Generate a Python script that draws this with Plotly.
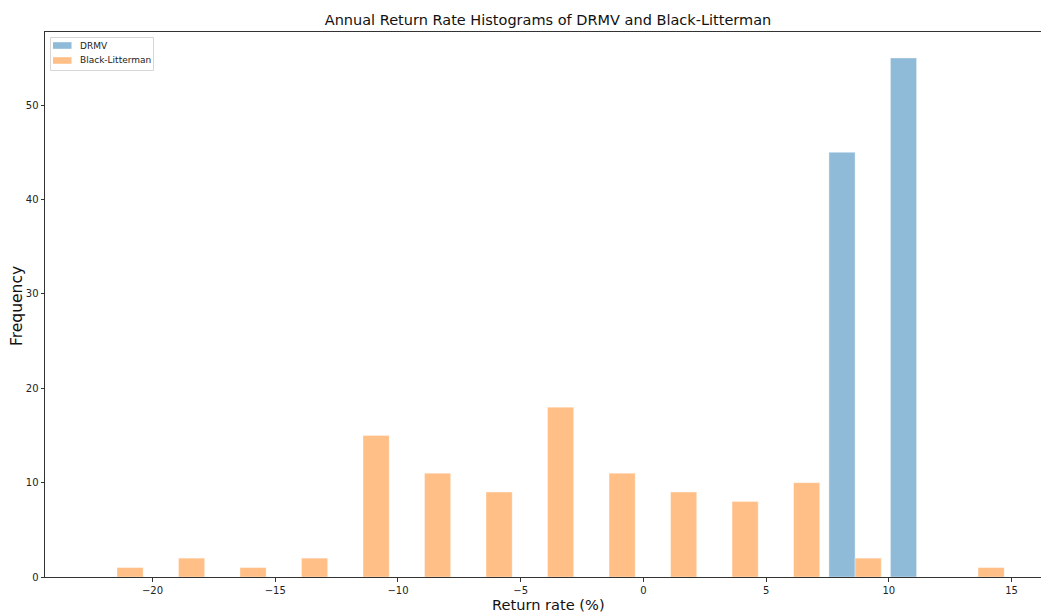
import plotly.graph_objects as go

# Histogram bins shared by both series (15 equal-width bins)
bin_start = -22.70
bin_width = 2.506
n_bins = 15

# Counts per bin
drmv_counts = [0, 0, 0, 0, 0, 0, 0, 0, 0, 0, 0, 0, 45, 55, 0]
bl_counts = [1, 2, 1, 2, 15, 11, 9, 18, 11, 9, 8, 10, 2, 0, 1]

series_names = ["DRMV", "Black-Litterman"]
series_colors = ["rgba(31,119,180,0.5)", "rgba(255,127,14,0.5)"]

x_ticks = [-20, -15, -10, -5, 0, 5, 10, 15]
y_ticks = [0, 10, 20, 30, 40, 50]

rwidth = 0.85
bin_centers = [bin_start + bin_width * (i + 0.5) for i in range(n_bins)]
bar_w = rwidth * bin_width / 2

W, H = 1041, 612
L, R, T, B = 45, 0, 32, 35
PW, PH = W - L - R, H - T - B


def px_x(px):
    return (px - L) / PW


def px_y(py):
    return (H - B - py) / PH


fig = go.Figure()
for k, (name, counts, color) in enumerate(zip(series_names, [drmv_counts, bl_counts], series_colors)):
    offset = -bar_w if k == 0 else 0.0
    fig.add_trace(go.Bar(
        x=bin_centers, y=counts, name=name,
        width=bar_w, offset=offset,
        marker=dict(color=color, line=dict(color="rgba(255,255,255,0.6)", width=0.6)),
    ))


def minus(v):
    return str(v).replace("-", "\u2212")


# Compact legend box in the upper-left corner
shapes = [dict(type="rect", xref="paper", yref="paper",
               x0=px_x(50.5), x1=px_x(153.5), y0=px_y(37.5), y1=px_y(70.5),
               line=dict(color="#d6d6d6", width=1), fillcolor="rgba(255,255,255,0.8)", layer="above")]
annotations = []
for i, (name, color) in enumerate(zip(series_names, series_colors)):
    cy = 45.5 + 15 * i
    shapes.append(dict(type="rect", xref="paper", yref="paper",
                       x0=px_x(53), x1=px_x(71.5), y0=px_y(cy - 3.3), y1=px_y(cy + 3.3),
                       line=dict(width=0), fillcolor=color, layer="above"))
    annotations.append(dict(text=name, xref="paper", yref="paper", x=px_x(78), y=px_y(cy),
                            xanchor="left", yanchor="middle", showarrow=False,
                            font=dict(size=9, color="#222")))

# Axis labels centred on the full axes box
annotations.append(dict(text="Return rate (%)", xref="paper", yref="paper",
                        x=px_x(548), y=px_y(604), xanchor="center", yanchor="middle",
                        showarrow=False, font=dict(size=14.6, color="#111")))
annotations.append(dict(text="Frequency", xref="paper", yref="paper",
                        x=px_x(17), y=px_y(306), xanchor="center", yanchor="middle",
                        textangle=-90, showarrow=False, font=dict(size=15.5, color="#111")))

fig.update_layout(
    width=W, height=H,
    margin=dict(l=L, r=R, t=T, b=B),
    paper_bgcolor="white", plot_bgcolor="white",
    barmode="overlay",
    font=dict(family="DejaVu Sans", color="#222"),
    title=dict(text="Annual Return Rate Histograms of DRMV and Black-Litterman",
               x=548 / W, xanchor="center", y=1 - 20 / H, yanchor="middle",
               font=dict(size=14.5, color="#111")),
    showlegend=False,
    shapes=shapes,
    annotations=annotations,
    xaxis=dict(range=[-24.38, 16.2], tickvals=x_ticks, ticktext=[minus(v) for v in x_ticks],
               showgrid=False, zeroline=False, showline=True, linecolor="#333", linewidth=1,
               mirror=True, ticks="outside", ticklen=3.5, tickcolor="#333",
               tickfont=dict(size=10, color="#222")),
    yaxis=dict(range=[0, 57.75], tickvals=y_ticks, ticktext=[str(v) for v in y_ticks],
               showgrid=False, zeroline=False, showline=True, linecolor="#333", linewidth=1,
               ticks="outside", ticklen=3.5, tickcolor="#333",
               tickfont=dict(size=10, color="#222")),
)

fig.write_html("out.html")
